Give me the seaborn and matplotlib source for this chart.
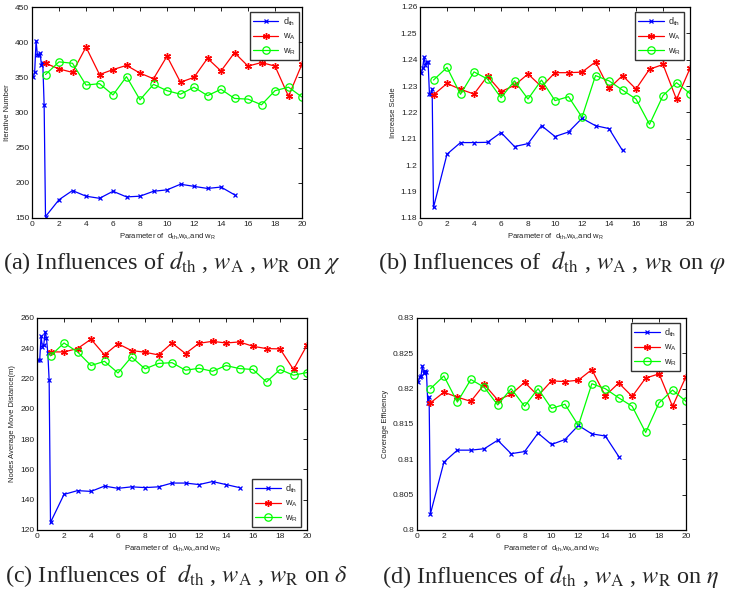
import numpy as np
import pandas as pd
import matplotlib
matplotlib.use("Agg")
import matplotlib.pyplot as plt
from matplotlib.ticker import FuncFormatter, MultipleLocator
import seaborn as sns

sns.set_style("white")
plt.rcParams["font.family"] = ["Liberation Sans", "DejaVu Sans"]
plt.rcParams["mathtext.fontset"] = "custom"
plt.rcParams["mathtext.rm"] = "Liberation Sans"
plt.rcParams["mathtext.it"] = "Liberation Sans:italic"

# parameter values: fine steps for d_th below 1, integer steps otherwise
x_dth = [0.1, 0.2, 0.3, 0.4, 0.5, 0.6, 0.7, 0.8, 0.9, 1, 2, 3, 4, 5, 6, 7, 8, 9, 10, 11, 12, 13, 14, 15]
x_w = list(range(1, 21))

# (a) iterative number
chi_dth = [350, 358, 402, 382, 382, 384, 368, 370, 310, 152,
           176, 189, 181, 178, 188, 180, 181, 188, 190, 198, 195, 192, 194, 183]
chi_wA = [370, 362, 357, 393, 354, 361, 367, 356, 348, 380,
          343, 350, 377, 359, 385, 366, 371, 366, 323, 369]
chi_wR = [354, 372, 370, 339, 341, 325, 351, 318, 340, 331,
          326, 336, 324, 333, 320, 319, 311, 331, 336, 322]

# (b) increase scale
phi_dth = [1.235, 1.237, 1.241, 1.238, 1.239, 1.239, 1.227, 1.227, 1.229, 1.184,
           1.2042, 1.2086, 1.2086, 1.2087, 1.2124, 1.2071, 1.2082, 1.2150, 1.2109,
           1.2126, 1.2178, 1.2150, 1.2139, 1.2056]
phi_wA = [1.2267, 1.2310, 1.2288, 1.2270, 1.2338, 1.2279, 1.2303, 1.2346, 1.2298, 1.2351,
          1.2351, 1.2353, 1.2392, 1.2291, 1.2340, 1.2289, 1.2364, 1.2382, 1.2250, 1.2367]
phi_wR = [1.2323, 1.2371, 1.2269, 1.2354, 1.2327, 1.2256, 1.2320, 1.2251, 1.2323, 1.2245,
          1.2260, 1.2182, 1.2340, 1.2320, 1.2285, 1.2251, 1.2155, 1.2264, 1.2313, 1.2272]

# (c) nodes average move distance
delta_dth = [232, 232, 248, 241, 242, 251, 247, 237, 219, 125,
             143.5, 146, 145.5, 149, 147.5, 148.5, 148, 148.5, 151, 151, 150, 152, 150, 148]
delta_wA = [237.6, 237.6, 239.8, 246, 235.6, 243, 238.5, 237.4, 235.6, 243.5,
            236.5, 243.3, 244.6, 243.5, 244.2, 241.3, 239.8, 239.6, 226, 242]
delta_wR = [235, 243.5, 237.6, 228.6, 231.4, 223.7, 234.3, 226.4, 230, 230.5,
            225.5, 226.8, 224.8, 228.6, 226.6, 226, 217.8, 226, 222.2, 224]

# (d) coverage efficiency
eta_dth = [0.8210, 0.8217, 0.8218, 0.8232, 0.8222, 0.8225, 0.8224, 0.8180, 0.8188, 0.8023,
           0.8096, 0.8113, 0.8113, 0.8115, 0.8127, 0.8108, 0.8111, 0.8137, 0.8121,
           0.8128, 0.8148, 0.8136, 0.8133, 0.8104]
eta_wA = [0.8180, 0.8195, 0.8188, 0.8182, 0.8206, 0.8184, 0.8192, 0.8209, 0.8190, 0.8211,
          0.8210, 0.8212, 0.8227, 0.8190, 0.8208, 0.8189, 0.8215, 0.8221, 0.8175, 0.8217]
eta_wR = [0.8200, 0.8218, 0.8181, 0.8213, 0.8202, 0.8177, 0.8200, 0.8175, 0.8200, 0.8172,
          0.8178, 0.8148, 0.8207, 0.8200, 0.8187, 0.8175, 0.8138, 0.8180, 0.8198, 0.8182]

W, H = 738, 595
fig = plt.figure(figsize=(W / 100, H / 100), dpi=100)
fig.patch.set_facecolor("white")


def px_axes(left, top, right, bottom):
    return fig.add_axes([left / W, 1 - bottom / H, (right - left) / W, (bottom - top) / H])


XLABEL = r"Parameter of  $\mathregular{d_{th}}$,$\mathregular{w_A}$,and $\mathregular{w_R}$"
ASTER = (6, 2, 0)
BLUE, RED, GREEN = (0, 0, 1), (1, 0, 0), (0, 1, 0)


def draw(ax, dth, wA, wR, ylim, ystep, ylabel, legend_loc, legend_anchor):
    sns.lineplot(x=x_dth, y=dth, ax=ax, color=BLUE, lw=0.9, marker="x",
                 markersize=3.2, markeredgewidth=0.9, markeredgecolor=BLUE,
                 label=r"$\mathregular{d_{th}}$")
    sns.lineplot(x=x_w, y=wA, ax=ax, color=RED, lw=0.9, marker=ASTER,
                 markersize=5, markeredgewidth=1.0, markeredgecolor=RED,
                 label=r"$\mathregular{w_A}$")
    sns.lineplot(x=x_w, y=wR, ax=ax, color=GREEN, lw=0.9, marker="o",
                 markersize=5.3, markerfacecolor="none", markeredgecolor=GREEN,
                 markeredgewidth=0.9, label=r"$\mathregular{w_R}$")
    ax.set_xlim(0, 20)
    ax.set_ylim(*ylim)
    ax.xaxis.set_major_locator(MultipleLocator(2))
    ax.yaxis.set_major_locator(MultipleLocator(ystep))
    ax.yaxis.set_major_formatter(FuncFormatter(lambda v, p: f"{round(v, 6):g}"))
    ax.tick_params(direction="in", length=3, width=0.6, labelsize=6,
                   top=True, right=True, pad=2, colors="black", labelcolor="#222222")
    for s in ax.spines.values():
        s.set_linewidth(0.9)
        s.set_color("black")
    ax.set_xlabel(XLABEL, fontsize=5.5, labelpad=3, color="#222222")
    ax.set_ylabel(ylabel, fontsize=5.5, labelpad=3, color="#222222")
    leg = ax.legend(loc=legend_loc, bbox_to_anchor=legend_anchor, fontsize=6.5,
                    frameon=True, fancybox=False, edgecolor="black",
                    handlelength=2.8, borderpad=0.35, labelspacing=0.45,
                    handletextpad=0.5, borderaxespad=0.2)
    leg.get_frame().set_linewidth(1.0)


ax_a = px_axes(32, 7, 302, 218)
draw(ax_a, chi_dth, chi_wA, chi_wR, (150, 450), 50, "Iterative Number",
     "upper right", (0.995, 0.985))
ax_b = px_axes(420, 7, 690, 218)
draw(ax_b, phi_dth, phi_wA, phi_wR, (1.18, 1.26), 0.01, "Increase Scale",
     "upper right", (0.985, 0.985))
ax_c = px_axes(37, 318, 307, 530)
draw(ax_c, delta_dth, delta_wA, delta_wR, (120, 260), 20,
     "Nodes Average Move Distance(m)", "lower right", (0.985, 0.005))
ax_d = px_axes(417, 318, 686, 530)
draw(ax_d, eta_dth, eta_wA, eta_wR, (0.8, 0.83), 0.005, "Coverage Efficiency",
     "upper right", (0.985, 0.985))

captions = [
    (3, 262, r"(a) Influences of $d_{\rm th}$ , $w_{\rm A}$ , $w_{\rm R}$ on $\chi$"),
    (378, 262, r"(b) Influences of  $d_{\rm th}$ , $w_{\rm A}$ , $w_{\rm R}$ on $\varphi$"),
    (5, 576, r"(c) Influences of  $d_{\rm th}$ , $w_{\rm A}$ , $w_{\rm R}$ on $\delta$"),
    (382, 576, r"(d) Influences of $d_{\rm th}$ , $w_{\rm A}$ , $w_{\rm R}$ on $\eta$"),
]
for x, y, txt in captions:
    fig.text(x / W, 1 - y / H, txt, ha="left", va="center", fontsize=17.5,
             family=["Liberation Serif", "DejaVu Serif"], math_fontfamily="stix")

fig.savefig("out.png", dpi=100, facecolor="white")
